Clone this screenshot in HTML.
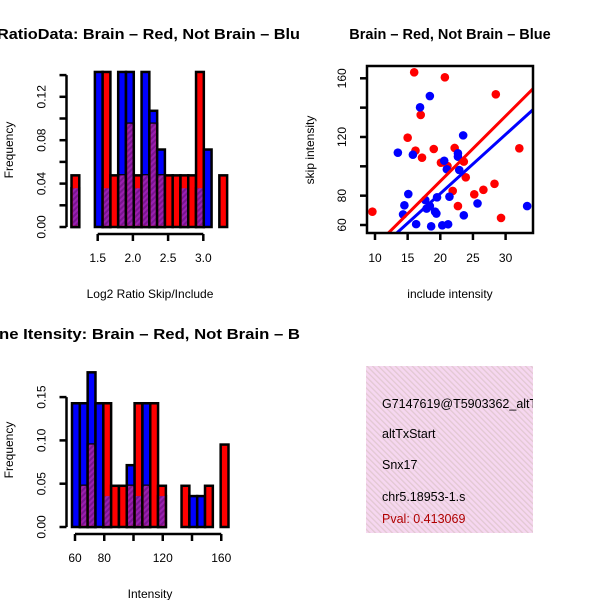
<!DOCTYPE html>
<html><head><meta charset="utf-8"><style>
html,body{margin:0;padding:0;background:#fff}
svg{display:block;font-family:"Liberation Sans",sans-serif}
</style></head><body>
<svg id="c" width="600" height="600" viewBox="0 0 600 600" xmlns="http://www.w3.org/2000/svg">
<defs>
<pattern id="hatch" width="4" height="4" patternUnits="userSpaceOnUse" patternTransform="rotate(45)">
<rect width="4" height="4" fill="#9a20b0"/><rect width="2" height="4" fill="#7a1490"/></pattern>
<pattern id="pinkhatch" width="4" height="4" patternUnits="userSpaceOnUse" patternTransform="rotate(-45)">
<rect width="4" height="4" fill="#f6d7f0"/><rect width="1.3" height="4" fill="#e2c8d2"/></pattern>
<clipPath id="clipL"><rect x="0" y="0" width="300" height="600"/></clipPath>
<clipPath id="clipBox"><rect x="367" y="66" width="166" height="167"/></clipPath>
<clipPath id="clipInfo"><rect x="366" y="366" width="167" height="167"/></clipPath>
</defs>
<g clip-path="url(#clipL)">
<text x="-3" y="39" font-size="15" font-weight="bold" textLength="303" lengthAdjust="spacingAndGlyphs">RatioData: Brain – Red, Not Brain – Blu</text>
<text x="-1" y="339" font-size="15" font-weight="bold" textLength="301" lengthAdjust="spacingAndGlyphs">ne Itensity: Brain – Red, Not Brain – B</text>
</g>
<text x="450" y="39" font-size="14.5" font-weight="bold" text-anchor="middle">Brain – Red, Not Brain – Blue</text>
<g id="h1"></g>
<g id="h2"></g>
<g id="sc"></g>
<g>
<rect x="366" y="366" width="167" height="167" fill="url(#pinkhatch)"/>
<g clip-path="url(#clipInfo)" font-size="12.5">
<text x="382" y="408">G7147619@T5903362_altTxStart</text>
<text x="382" y="438">altTxStart</text>
<text x="382" y="469">Snx17</text>
<text x="382" y="501">chr5.18953-1.s</text>
<text x="382" y="523" fill="#b00000">Pval: 0.413069</text>
</g></g>
</svg>
<script>
// ---- Histogram 1 data (Log2 ratio) ----
const h1Bins = [1.128,1.460,1.570,1.681,1.791,1.902,2.013,2.123,2.234,2.344,2.455,2.565,2.676,2.786,2.897,3.007,3.228];
const h1Red  = [0.0476,0,0.1429,0.0476,0.0476,0.0952,0.0476,0.0476,0.0952,0.0476,0.0476,0.0476,0.0476,0.0476,0.1429,0,0.0476];
const h1Blue = [0.0357,0.1429,0.0357,0,0.1429,0.1429,0.0357,0.1429,0.1071,0.0714,0,0,0.0357,0,0.0357,0.0714,0];
const h1XTicks = [1.5,2.0,2.5,3.0];
const h1XLabels = ["1.5","2.0","2.5","3.0"];
const h1YTicks = [0,0.02,0.04,0.06,0.08,0.10,0.12,0.14];
const h1YLabels = ["0.00","0.04","0.08","0.12"];
const h1YLabelVals = [0,0.04,0.08,0.12];
// ---- Histogram 2 data (Intensity) ----
const h2Bins = [57.95,63.3,68.65,74.0,79.35,84.7,90.05,95.4,100.75,106.1,111.45,116.8,132.85,138.2,143.55,148.9,159.6];
const h2Red  = [0,0.0476,0.0952,0,0.1429,0.0476,0.0476,0.0476,0.1429,0.0476,0.1429,0.0476,0.0476,0,0,0.0476,0.0952];
const h2Blue = [0.1429,0.1429,0.1786,0.1429,0.0357,0,0,0.0714,0.0357,0.1429,0,0.0357,0,0.0357,0.0357,0,0];
const h2XTicks = [60,80,100,120,140,160];
const h2XLabels = ["60","80","120","160"];
const h2XLabelVals = [60,80,120,160];
const h2YTicks = [0,0.05,0.10,0.15];
const h2YLabels = ["0.00","0.05","0.10","0.15"];
// ---- Scatter data ----
const redX = [16.0,20.7,28.5,17.0,15.0,16.2,19.0,17.2,22.2,32.1,20.1,21.1,23.6,23.9,21.9,28.3,26.6,25.2,22.7,29.3,9.6];
const redY = [164.1,160.7,149.1,135,119.5,110.7,111.8,105.9,112.5,112.3,102.5,100.2,103.2,92.5,83.2,88.1,84,80.9,72.9,64.8,69.1];
const blueX = [18.4,16.9,23.5,13.5,15.8,22.7,22.7,20.6,21.0,22.9,15.1,21.4,14.5,17.7,19.5,18.4,19.2,25.7,33.3,14.3,23.6,16.3,18.6,20.3,21.2,17.9,19.4];
const blueY = [147.9,140.2,121.1,109.3,107.9,108.9,106.6,103.8,98,97.5,81.1,79.3,73.4,77,78.9,72.9,69.1,74.7,72.9,67.2,66.6,60.6,59.1,59.8,60.5,71.2,67.8];
const redFit = [1.05,4.44];   // intercept, slope
const blueFit = [0.8,4.03];
const scXTicks = [10,15,20,25,30];
const scYTicks = [60,80,100,120,140,160];
const scYLabels = ["60","80","120","160"];
const scYLabelVals = [60,80,120,160];

const NS="http://www.w3.org/2000/svg";
function mk(parent,tag,attrs,text){const e=document.createElementNS(NS,tag);for(const k in attrs)e.setAttribute(k,attrs[k]);if(text!==undefined)e.textContent=text;parent.appendChild(e);return e;}

function hist(g,cfg){
  const xs=v=>cfg.x0px+(v-cfg.x0)*cfg.xk;
  const ys=v=>cfg.y0px-v*cfg.yk;
  const w=cfg.bw*cfg.xk;
  cfg.bins.forEach((b,i)=>{
    const x=xs(b);
    const r=cfg.red[i],bl=cfg.blue[i];
    if(bl>0){const e=mk(g,'rect',{x:x,y:ys(bl),width:w,height:ys(0)-ys(bl),fill:'#0000ff',stroke:'#000','stroke-width':2.5});
      
      }
    if(r>0){const e=mk(g,'rect',{x:x,y:ys(r),width:w,height:ys(0)-ys(r),fill:'#ff0000',stroke:'#000','stroke-width':2.5});
      
      }
    const m=Math.min(r,bl);
    if(m>0){const e=mk(g,'rect',{x:x+1.3,y:ys(m),width:w-2.6,height:ys(0)-ys(m)-1.3,fill:'url(#hatch)'});
      
      }
  });
  const yt=cfg.yTicks;
  const ya=mk(g,'g',{stroke:'#000','stroke-width':2.5,fill:'none'});
  
  
  mk(ya,'line',{x1:cfg.yAxisX,x2:cfg.yAxisX,y1:ys(yt[0]),y2:ys(yt[yt.length-1])});
  yt.forEach(v=>mk(ya,'line',{x1:cfg.yAxisX-7,x2:cfg.yAxisX,y1:ys(v),y2:ys(v)}));
  cfg.yLabelVals.forEach((v,i)=>{const t=mk(g,'text',{x:0,y:0,'font-size':12,'text-anchor':'middle',transform:`translate(${cfg.yAxisX-21},${ys(v)}) rotate(-90)`},cfg.yLabels[i]);
    
    });
  const xt=cfg.xTicks;
  const xa=mk(g,'g',{stroke:'#000','stroke-width':2.5,fill:'none'});
  
  
  mk(xa,'line',{x1:xs(xt[0]),x2:xs(xt[xt.length-1]),y1:cfg.xAxisY,y2:cfg.xAxisY});
  xt.forEach(v=>mk(xa,'line',{x1:xs(v),x2:xs(v),y1:cfg.xAxisY,y2:cfg.xAxisY+7}));
  cfg.xLabelVals.forEach((v,i)=>{const t=mk(g,'text',{x:xs(v),y:cfg.xAxisY+28,'font-size':12,'text-anchor':'middle'},cfg.xLabels[i]);
    
    });
  const xtTitle=mk(g,'text',{x:150,y:cfg.xAxisY+64,'font-size':12,'text-anchor':'middle'},cfg.xTitle);
  
  
  const ytTitle=mk(g,'text',{x:0,y:0,'font-size':12,'text-anchor':'middle',transform:`translate(13,${cfg.yTitleY}) rotate(-90)`},'Frequency');
  
  
}
hist(document.getElementById('h1'),{bins:h1Bins,red:h1Red,blue:h1Blue,bw:0.1105,x0:1.5,x0px:97.7,xk:70.4,y0px:227,yk:1085,
  yAxisX:66.5,xAxisY:234,xTicks:h1XTicks,xLabels:h1XLabels,xLabelVals:h1XTicks,yTicks:h1YTicks,yLabels:h1YLabels,yLabelVals:h1YLabelVals,
  xTitle:'Log2 Ratio Skip/Include',yTitleY:150});
hist(document.getElementById('h2'),{bins:h2Bins,red:h2Red,blue:h2Blue,bw:5.35,x0:60,x0px:75,xk:1.4625,y0px:527,yk:866,
  yAxisX:66.5,xAxisY:534,xTicks:h2XTicks,xLabels:h2XLabels,xLabelVals:h2XLabelVals,yTicks:h2YTicks,yLabels:h2YLabels,yLabelVals:h2YTicks,
  xTitle:'Intensity',yTitleY:450});

(function(){
  const g=document.getElementById('sc');
  const xs=v=>375+(v-10)*6.53;
  const ys=v=>225-(v-60)*1.467;
  const inner=mk(g,'g',{'clip-path':'url(#clipBox)'});
  redX.forEach((x,i)=>{const c=mk(inner,'circle',{cx:xs(x),cy:ys(redY[i]),r:4.3,fill:'#ff0000'});
    
    });
  blueX.forEach((x,i)=>{const c=mk(inner,'circle',{cx:xs(x),cy:ys(blueY[i]),r:4.3,fill:'#0000ff'});
    
    });
  const xa=0,xb=40;
  const rl=mk(inner,'line',{x1:xs(xa),y1:ys(redFit[0]+redFit[1]*xa),x2:xs(xb),y2:ys(redFit[0]+redFit[1]*xb),stroke:'#ff0000','stroke-width':3});
  
  
  const bl=mk(inner,'line',{x1:xs(xa),y1:ys(blueFit[0]+blueFit[1]*xa),x2:xs(xb),y2:ys(blueFit[0]+blueFit[1]*xb),stroke:'#0000ff','stroke-width':3});
  
  
  const box=mk(g,'rect',{x:367,y:66,width:166,height:167,fill:'none',stroke:'#000','stroke-width':2.5});
  
  
  const ax=mk(g,'g',{stroke:'#000','stroke-width':2.5});
  scXTicks.forEach(v=>mk(ax,'line',{x1:xs(v),x2:xs(v),y1:233,y2:240}));
  scYTicks.forEach(v=>mk(ax,'line',{x1:360,x2:367,y1:ys(v),y2:ys(v)}));
  scXTicks.forEach(v=>{const t=mk(g,'text',{x:xs(v),y:262,'font-size':12,'text-anchor':'middle'},String(v));
    
    });
  scYLabelVals.forEach((v,i)=>{const t=mk(g,'text',{x:0,y:0,'font-size':12,'text-anchor':'middle',transform:`translate(346,${ys(v)}) rotate(-90)`},scYLabels[i]);
    
    });
  const xt=mk(g,'text',{x:450,y:298,'font-size':12,'text-anchor':'middle'},'include intensity');
  
  
  const yt=mk(g,'text',{x:0,y:0,'font-size':12,'text-anchor':'middle',transform:'translate(314,150) rotate(-90)'},'skip intensity');
  
  
})();
</script>
</body></html>
